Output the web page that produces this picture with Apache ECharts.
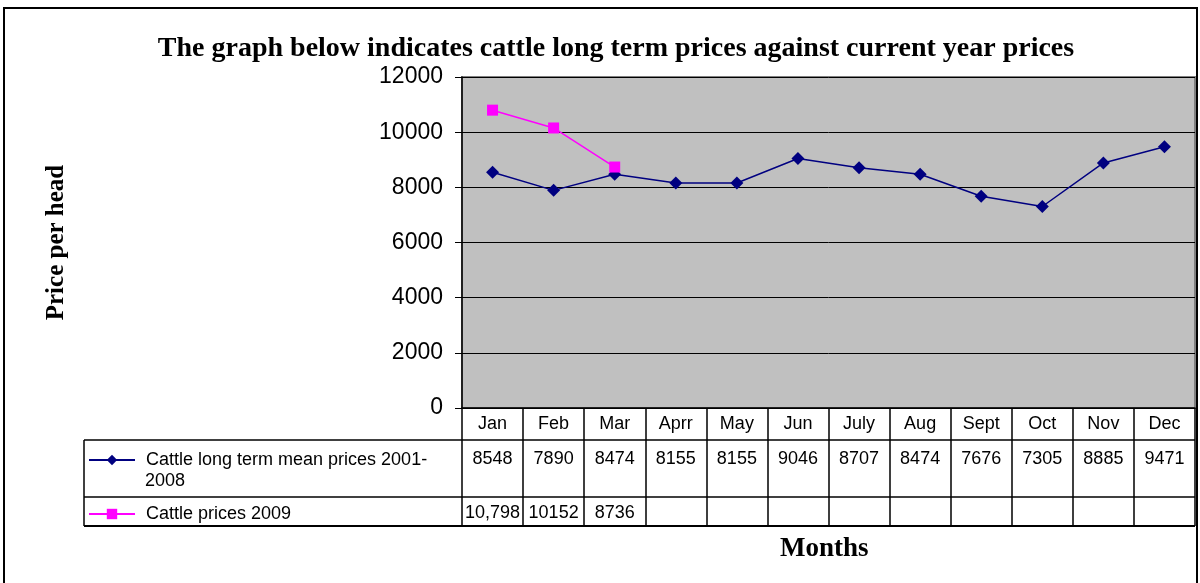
<!DOCTYPE html>
<html>
<head>
<meta charset="utf-8">
<script src="https://cdn.jsdelivr.net/npm/echarts@6/dist/echarts.min.js"></script>
<style>
  html, body { margin: 0; padding: 0; background: #fff; }
  #chart { width: 1200px; height: 583px; }
</style>
</head>
<body>
<div id="chart"></div>
<script>
const months = ['Jan', 'Feb', 'Mar', 'Aprr', 'May', 'Jun', 'July', 'Aug', 'Sept', 'Oct', 'Nov', 'Dec'];
const longTermMean = [8548, 7890, 8474, 8155, 8155, 9046, 8707, 8474, 7676, 7305, 8885, 9471];
const prices2009 = [10798, 10152, 8736, null, null, null, null, null, null, null, null, null];
const prices2009Labels = ['10,798', '10152', '8736', '', '', '', '', '', '', '', '', ''];
const yTicks = [0, 2000, 4000, 6000, 8000, 10000, 12000];

const nameMean = 'Cattle long term mean prices 2001-2008';
const name2009 = 'Cattle prices 2009';

const chart = echarts.init(document.getElementById('chart'));

// table lines (decoration only)
const tableLine = (x1, y1, x2, y2, w) => ({
  type: 'line', shape: { x1, y1, x2, y2 },
  style: { stroke: '#000', lineWidth: w || 1 }, silent: true
});

const tableText = {
  fontFamily: 'Liberation Sans', fontSize: 18, color: '#000'
};

chart.setOption({
  animation: false,
  backgroundColor: '#fff',
  title: {
    text: 'The graph below indicates cattle long term prices against current year prices',
    left: 611, top: 30, textAlign: 'center',
    textStyle: { fontFamily: 'Liberation Serif', fontWeight: 'bold', fontSize: 28, color: '#000' }
  },
  legend: [
    {
      data: [nameMean], left: 83, top: 446,
      itemWidth: 46, itemHeight: 13, itemGap: 0,
      formatter: () => 'Cattle long term mean prices 2001-',
      textStyle: Object.assign({ padding: [0, 0, 0, 6] }, tableText)
    },
    {
      data: [name2009], left: 83, top: 500,
      itemWidth: 46, itemHeight: 13,
      textStyle: Object.assign({ padding: [0, 0, 0, 6] }, tableText)
    }
  ],
  grid: {
    left: 462, right: 5, top: 77, bottom: 175,
    show: true, backgroundColor: '#c0c0c0', borderColor: '#808080', borderWidth: 2
  },
  xAxis: [
    {
      type: 'category', data: months, boundaryGap: true,
      axisLine: { lineStyle: { color: '#000', width: 1.5 } },
      axisTick: { show: true, length: 118, interval: 0, lineStyle: { color: '#000', width: 1.5 } },
      axisLabel: Object.assign({ margin: 7, interval: 0 }, tableText)
    },
    {
      type: 'category', data: longTermMean.map(String), boundaryGap: true,
      position: 'bottom', offset: 34,
      axisLine: { show: false }, axisTick: { show: false },
      axisLabel: Object.assign({ margin: 8, interval: 0 }, tableText)
    },
    {
      type: 'category', data: prices2009Labels, boundaryGap: true,
      position: 'bottom', offset: 88,
      axisLine: { show: false }, axisTick: { show: false },
      axisLabel: Object.assign({ margin: 8, interval: 0 }, tableText)
    }
  ],
  yAxis: {
    type: 'value', min: yTicks[0], max: yTicks[yTicks.length - 1], interval: 2000,
    name: 'Price per head', nameLocation: 'middle', nameRotate: 90, nameGap: 393,
    nameTextStyle: { fontFamily: 'Liberation Serif', fontWeight: 'bold', fontSize: 25, color: '#000' },
    axisLine: { show: true, lineStyle: { color: '#000', width: 1.5 } },
    axisTick: { show: true, length: 7, lineStyle: { color: '#000' } },
    axisLabel: {
      margin: 19, fontFamily: 'Liberation Sans', fontSize: 23, color: '#000',
      formatter: v => String(v)
    },
    splitLine: { lineStyle: { color: '#000', width: 1 } }
  },
  series: [
    {
      name: nameMean, type: 'line', data: longTermMean,
      symbol: 'diamond', symbolSize: 13,
      lineStyle: { color: '#000080', width: 1.5 },
      itemStyle: { color: '#000080' }
    },
    {
      name: name2009, type: 'line', data: prices2009,
      symbol: 'rect', symbolSize: 11,
      lineStyle: { color: '#ff00ff', width: 1.5 },
      itemStyle: { color: '#ff00ff' }
    }
  ],
  graphic: [
    {
      type: 'rect', shape: { x: 4, y: 8, width: 1193, height: 600 },
      style: { fill: null, stroke: '#000', lineWidth: 2 }, silent: true, z: -1
    },
    tableLine(84, 440, 1195, 440, 1.5),
    tableLine(84, 497, 1195, 497, 1.5),
    tableLine(84, 526, 1195, 526, 2),
    tableLine(84, 440, 84, 526, 1.5),
    {
      type: 'text', left: 145, top: 472,
      style: { text: '2008', font: '18px "Liberation Sans"', fill: '#000' }
    },
    {
      type: 'text', left: 780, top: 536,
      style: { text: 'Months', font: 'bold 27px "Liberation Serif"', fill: '#000' }
    }
  ]
});
</script>
</body>
</html>
